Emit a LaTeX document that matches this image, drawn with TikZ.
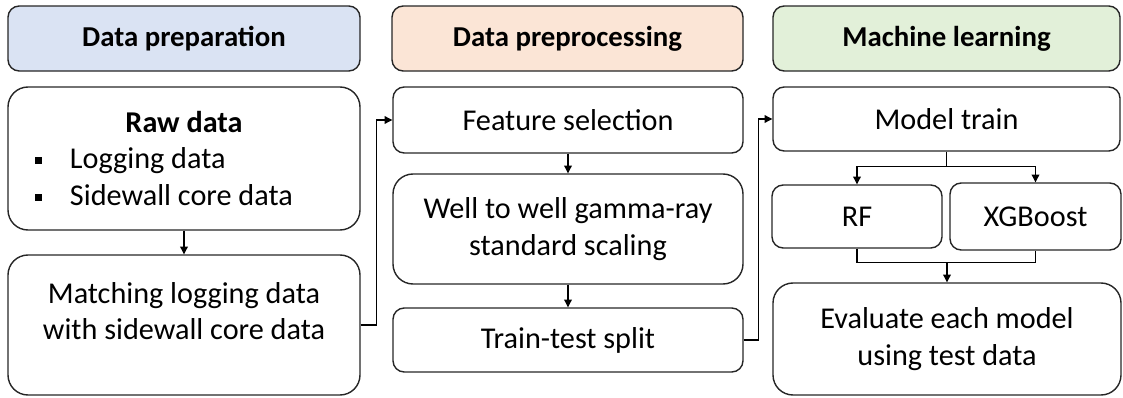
\documentclass[tikz,border=0pt]{standalone}
\usepackage{fontspec}
\setmainfont{Carlito}
\usetikzlibrary{positioning,calc,arrows.meta}
\definecolor{prepblue}{HTML}{DAE3F3}
\definecolor{procorange}{HTML}{FBE5D6}
\definecolor{mlgreen}{HTML}{E2F0D9}
\tikzset{
	header/.style={rectangle, rounded corners=0.28cm, draw=black!85, line width=1pt, minimum width=8.8cm, minimum height=1.625cm, inner sep=2pt, font=\fontsize{20.5}{25}\selectfont\bfseries},
	smallbox/.style={rectangle, rounded corners=0.28cm, draw=black!85, line width=1pt, minimum width=8.75cm, minimum height=1.6cm, inner sep=2pt, align=center, font=\fontsize{21.5}{26}\selectfont},
	bigbox/.style={smallbox, rounded corners=0.5cm},
	arrow/.style={-{Triangle[length=5.5pt,width=5.5pt]}, line width=0.75pt}
}

\begin{document}
\begin{tikzpicture}
			\useasboundingbox (0,0) rectangle (28.075,-9.925);
			% column headers
			\node[header, fill=prepblue] (prep) at (4.6,-0.9625) {Data preparation};
			\node[header, fill=procorange, minimum width=8.775cm] (proc) at (14.1875,-0.9625) {Data preprocessing};
			\node[header, fill=mlgreen, minimum width=8.675cm] (ml) at (23.6625,-0.9625) {Machine learning};
			
			% data preparation
			\node[bigbox, minimum width=8.8cm, minimum height=3.575cm, inner xsep=0pt, text width=8.8cm, align=flush left] (raw) at (4.6,-3.9625)
				{\makebox[8.8cm]{\bfseries Raw data}\\
				 \hspace*{0.675cm}\raisebox{0.125cm}{\rule{0.175cm}{0.175cm}}\hspace{0.7cm}Logging data\\
				 \hspace*{0.675cm}\raisebox{0.125cm}{\rule{0.175cm}{0.175cm}}\hspace{0.7cm}Sidewall core data};
			\node[bigbox, minimum width=8.8cm, minimum height=3.5cm, text depth=0.7cm] (match) at (4.6,-8.125)
				{Matching logging data\\with sidewall core data};
			
			% data preprocessing
			\node[smallbox, minimum height=1.65cm] (feat) at (14.2,-3.0) {Feature selection};
			\node[bigbox, minimum width=8.75cm, minimum height=2.75cm] (well) at (14.2,-5.725) {Well to well gamma-ray\\standard scaling};
			\node[smallbox] (split) at (14.2,-8.5) {Train-test split};
			
			% machine learning
			\node[smallbox, minimum width=8.675cm] (model) at (23.6625,-2.975) {Model train};
			\node[smallbox, minimum width=4.25cm, minimum height=1.575cm] (rf) at (21.425,-5.4125) {RF};
			\node[smallbox, minimum width=4.275cm, minimum height=1.675cm] (xgb) at (25.8875,-5.4125) {XGBoost};
			\node[bigbox, minimum width=8.7cm, minimum height=2.8cm] (eval) at (23.675,-8.475) {Evaluate each model\\using test data};
			
			% arrows
			\coordinate (mt) at ($(model.south)+(0,-0.375)$);
			\coordinate (mj) at ($(eval.north)+(0,0.5)$);
			\draw[arrow] (raw) -- (match);
			\draw[arrow] (match.east) -- ++(0.4,0) |- (feat.west);
			\draw[arrow] (feat) -- (well);
			\draw[arrow] (well) -- (split);
			\draw[arrow] (split.east) -- ++(0.375,0) |- (model.west);
			\draw[line width=0.75pt] (model.south) -- (mt);
			\draw[arrow] (mt) -| (rf.north);
			\draw[arrow] (mt) -| (xgb.north);
			\draw[line width=0.75pt] (rf.south) |- (mj) -| (xgb.south);
			\draw[arrow] (mj) -- (eval);
		\end{tikzpicture}
\end{document}
